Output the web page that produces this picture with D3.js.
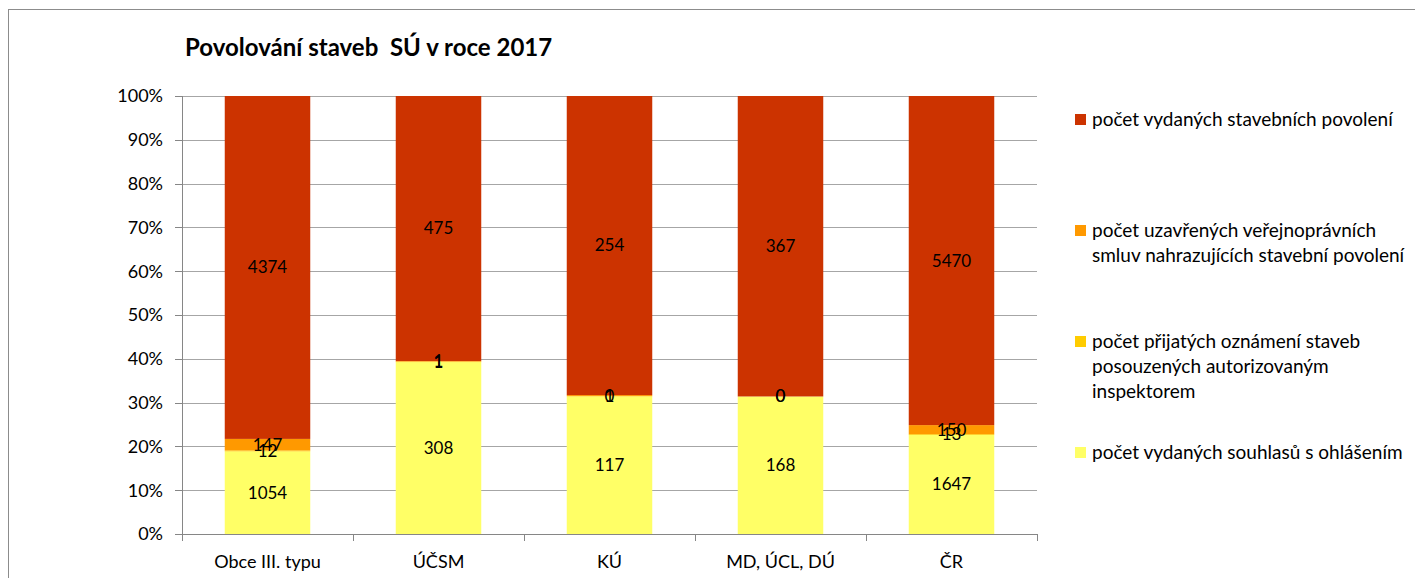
<!DOCTYPE html>
<html><head><meta charset="utf-8">
<script src="https://cdn.jsdelivr.net/npm/d3@7"></script>
<style>
html,body{margin:0;padding:0;background:#fff;}
text{font-family:Lato,"Open Sans",sans-serif;fill:#000;white-space:pre;}
</style></head>
<body><svg id="c" width="1415" height="578"></svg>
<script>
const categories = ["Obce III. typu", "ÚČSM", "KÚ", "MD, ÚCL, DÚ", "ČR"];
const seriesNames = [
  "počet vydaných souhlasů s ohlášením",
  "počet přijatých oznámení staveb posouzených autorizovaným inspektorem",
  "počet uzavřených veřejnoprávních smluv nahrazujících stavební povolení",
  "počet vydaných stavebních povolení"
];
const souhlasy   = [1054, 308, 117, 168, 1647];
const oznameni   = [12, 1, 0, 0, 13];
const smlouvy    = [147, 1, 1, 0, 150];
const povoleni   = [4374, 475, 254, 367, 5470];
const seriesColors = ["#FFFF66", "#FFCC00", "#FF9900", "#CC3300"];
const yTicks = [0, 0.1, 0.2, 0.3, 0.4, 0.5, 0.6, 0.7, 0.8, 0.9, 1];
const legendLines = [
  ["počet vydaných stavebních povolení"],
  ["počet uzavřených veřejnoprávních", "smluv nahrazujících stavební povolení"],
  ["počet přijatých oznámení staveb", "posouzených autorizovaným", "inspektorem"],
  ["počet vydaných souhlasů s ohlášením"]
];
const legendColorIdx = [3, 2, 1, 0];

const svg = d3.select("#c");
const L = 182, R = 1037, T = 96, B = 534;

// outer frame
svg.append("rect").attr("x", 8.5).attr("y", 9.5).attr("width", 1430).attr("height", 600)
  .attr("fill", "none").attr("stroke", "#8c8c8c").attr("stroke-width", 1);

// title
svg.append("text").attr("x", 185).attr("y", 56).attr("font-size", 24).attr("font-weight", "bold")
  .text("Povolování staveb  SÚ v roce 2017");

const x = d3.scaleBand().domain(categories).range([L, R]).paddingInner(0.5).paddingOuter(0.25);
const y = d3.scaleLinear().domain([0, 1]).range([B, T]);

// gridlines
svg.append("g").selectAll("line").data(yTicks.filter(d => d > 0)).join("line")
  .attr("x1", L).attr("x2", R).attr("y1", d => Math.round(y(d)) + 0.5).attr("y2", d => Math.round(y(d)) + 0.5)
  .attr("stroke", "#a6a6a6").attr("stroke-width", 1);

// data
const rows = categories.map((c, i) => ({
  cat: c, s0: souhlasy[i], s1: oznameni[i], s2: smlouvy[i], s3: povoleni[i]
}));
const stack = d3.stack().keys(["s0", "s1", "s2", "s3"]).offset(d3.stackOffsetExpand);
const stacked = stack(rows);

const g = svg.append("g");
stacked.forEach((layer, li) => {
  g.append("g").selectAll("rect").data(layer).join("rect")
    .attr("x", d => x(d.data.cat))
    .attr("width", x.bandwidth())
    .attr("y", d => y(d[1]))
    .attr("height", d => Math.max(0, y(d[0]) - y(d[1])))
    .attr("fill", seriesColors[li]);
});

// data labels
stacked.forEach((layer, li) => {
  svg.append("g").selectAll("text").data(layer).join("text")
    .attr("x", d => x(d.data.cat) + x.bandwidth() / 2)
    .attr("y", d => (y(d[0]) + y(d[1])) / 2)
    .attr("dy", "0.35em")
    .attr("text-anchor", "middle")
    .attr("font-size", 17)
    .text(d => d.data[layer.key]);
});

// axes
const axisColor = "#868686";
svg.append("line").attr("x1", L + 0.5).attr("x2", L + 0.5).attr("y1", T).attr("y2", B + 0.5)
  .attr("stroke", axisColor);
svg.append("line").attr("x1", L).attr("x2", R).attr("y1", B + 0.5).attr("y2", B + 0.5)
  .attr("stroke", axisColor);
svg.append("g").selectAll("line").data(yTicks).join("line")
  .attr("x1", L - 7).attr("x2", L).attr("y1", d => Math.round(y(d)) + 0.5).attr("y2", d => Math.round(y(d)) + 0.5)
  .attr("stroke", axisColor);
svg.append("g").selectAll("text").data(yTicks).join("text")
  .attr("x", 163).attr("y", d => y(d)).attr("dy", "0.35em").attr("text-anchor", "end")
  .attr("font-size", 18).text(d => d3.format(".0%")(d));

const catEdges = categories.map(c => x(c) - x.step() * 0.25).concat([R]);
svg.append("g").selectAll("line").data(catEdges).join("line")
  .attr("x1", d => Math.round(d) + 0.5).attr("x2", d => Math.round(d) + 0.5)
  .attr("y1", B).attr("y2", B + 7).attr("stroke", axisColor);
svg.append("g").selectAll("text").data(categories).join("text")
  .attr("x", d => x(d) + x.bandwidth() / 2).attr("y", 568).attr("text-anchor", "middle")
  .attr("font-size", 18).text(d => d);

// legend
const legendY = [119, 230, 341, 452];
const lg = svg.append("g");
legendLines.forEach((lines, i) => {
  lg.append("rect").attr("x", 1075).attr("y", legendY[i] - 5).attr("width", 11).attr("height", 11)
    .attr("fill", seriesColors[legendColorIdx[i]]);
  lines.forEach((ln, j) => {
    lg.append("text").attr("x", 1092).attr("y", legendY[i] + j * 25).attr("dy", "0.35em")
      .attr("font-size", 19).text(ln);
  });
});
</script></body></html>
